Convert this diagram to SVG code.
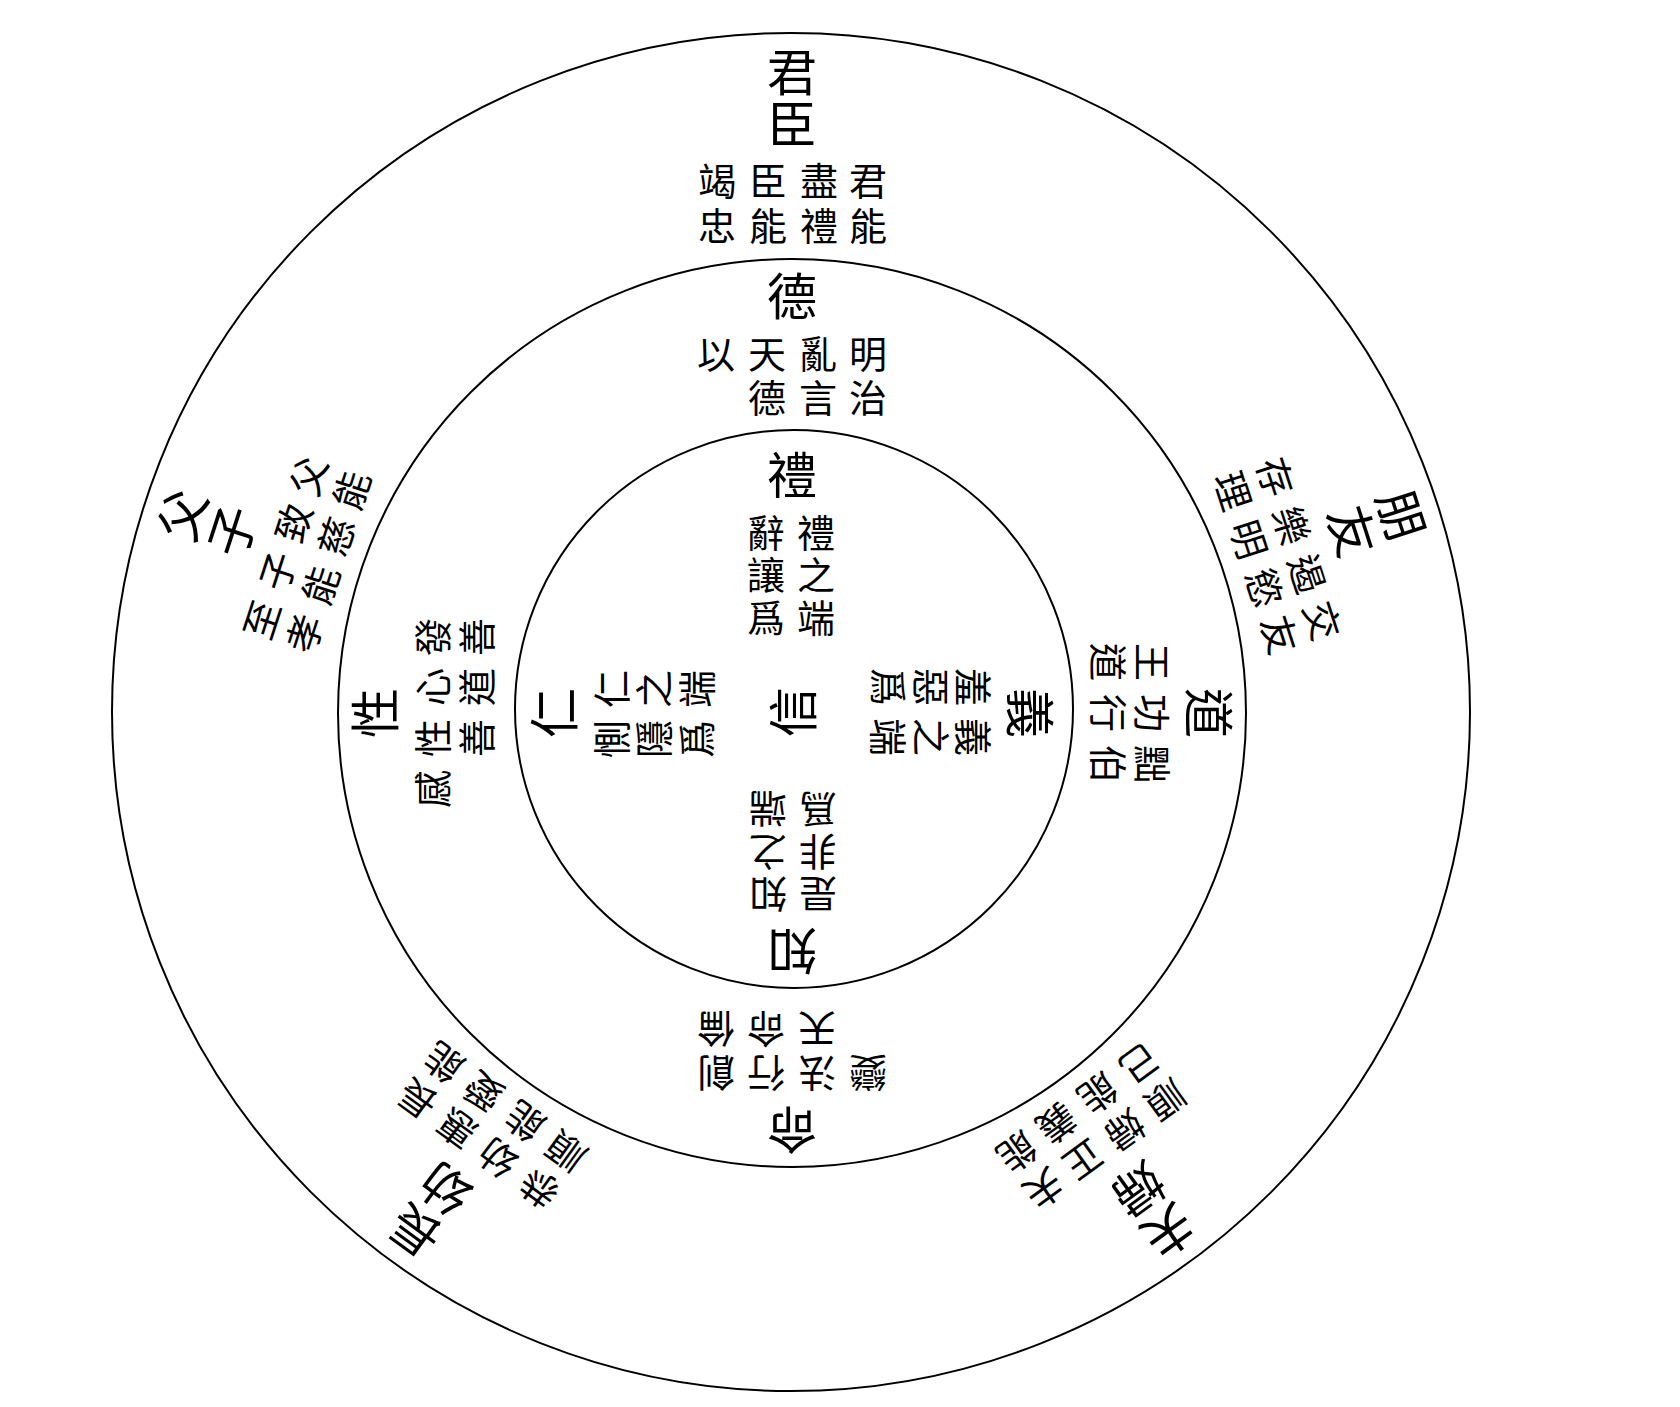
<svg xmlns="http://www.w3.org/2000/svg" width="1680" height="1407" viewBox="0 0 1680 1407">
<style>
.ring{fill:none;stroke:#000;stroke-width:2}
.t{font-family:"Noto Sans CJK TC","Noto Sans CJK SC",sans-serif;text-anchor:middle;dominant-baseline:central;fill:#000}
.h{font-size:50px}
.s{font-size:38px}
</style>
<rect width="1680" height="1407" fill="#fff"/>
<g id="rings">
<circle class="ring" cx="791" cy="712" r="679"/>
<circle class="ring" cx="792" cy="713" r="454"/>
<circle class="ring" cx="794" cy="709" r="279"/>
</g>
<g id="connectors"/>
<!-- inner ring -->
<g id="node-li">
<text class="t h" x="792" y="472">禮</text>
<text class="t s" x="816" y="530">禮</text><text class="t s" x="816" y="572">之</text><text class="t s" x="816" y="615">端</text>
<text class="t s" x="766" y="530">辭</text><text class="t s" x="766" y="572">讓</text><text class="t s" x="766" y="615">爲</text>
</g>
<g id="node-yi" transform="rotate(90 792 713)">
<text class="t h" x="792" y="472">義</text>
<text class="t s" x="816" y="530">義</text><text class="t s" x="816" y="572">之</text><text class="t s" x="816" y="615">端</text>
<text class="t s" x="766" y="530">羞</text><text class="t s" x="766" y="572">惡</text><text class="t s" x="766" y="615">爲</text>
</g>
<g id="node-zhi" transform="rotate(180 792 713)">
<text class="t h" x="792" y="472">知</text>
<text class="t s" x="816" y="530">知</text><text class="t s" x="816" y="572">之</text><text class="t s" x="816" y="615">端</text>
<text class="t s" x="766" y="530">是</text><text class="t s" x="766" y="572">非</text><text class="t s" x="766" y="615">爲</text>
</g>
<g id="node-ren" transform="rotate(270 792 713)">
<text class="t h" x="792" y="472">仁</text>
<text class="t s" x="816" y="530">仁</text><text class="t s" x="816" y="572">之</text><text class="t s" x="816" y="615">端</text>
<text class="t s" x="766" y="530">惻</text><text class="t s" x="766" y="572">隱</text><text class="t s" x="766" y="615">爲</text>
</g>
<g id="node-xin">
<text class="t h" x="790" y="712" transform="rotate(-90 790 712)">信</text>
</g>
<!-- middle ring -->
<g id="node-de">
<text class="t h" x="792" y="293">德</text>
<text class="t s" x="868" y="351">明</text><text class="t s" x="868" y="395">治</text>
<text class="t s" x="818" y="351">亂</text><text class="t s" x="818" y="395">言</text>
<text class="t s" x="767" y="351">天</text><text class="t s" x="767" y="395">德</text>
<text class="t s" x="716" y="351">以</text>
</g>
<g id="node-dao" transform="rotate(90 792 713)">
<text class="t h" x="792" y="293">道</text>
<text class="t s" x="843" y="351">黜</text><text class="t s" x="843" y="395">伯</text>
<text class="t s" x="792" y="351">功</text><text class="t s" x="792" y="395">行</text>
<text class="t s" x="741" y="351">王</text><text class="t s" x="741" y="395">道</text>
</g>
<g id="node-ming" transform="rotate(180 792 713)">
<text class="t h" x="792" y="293">命</text>
<text class="t s" x="868" y="351">創</text><text class="t s" x="868" y="395">倫</text>
<text class="t s" x="818" y="351">行</text><text class="t s" x="818" y="395">命</text>
<text class="t s" x="767" y="351">法</text><text class="t s" x="767" y="395">天</text>
<text class="t s" x="716" y="351">變</text>
</g>
<g id="node-xing" transform="rotate(270 792 713)">
<text class="t h" x="792" y="293">性</text>
<text class="t s" x="868" y="351">發</text><text class="t s" x="868" y="395">善</text>
<text class="t s" x="818" y="351">心</text><text class="t s" x="818" y="395">道</text>
<text class="t s" x="767" y="351">性</text><text class="t s" x="767" y="395">善</text>
<text class="t s" x="716" y="351">感</text>
</g>
<!-- outer ring -->
<g id="node-junchen">
<text class="t h" x="792" y="69">君</text><text class="t h" x="792" y="121">臣</text>
<text class="t s" x="868" y="178">君</text><text class="t s" x="868" y="223">能</text>
<text class="t s" x="819" y="178">盡</text><text class="t s" x="819" y="223">禮</text>
<text class="t s" x="768" y="178">臣</text><text class="t s" x="768" y="223">能</text>
<text class="t s" x="717" y="178">竭</text><text class="t s" x="717" y="223">忠</text>
</g>
<g id="node-pengyou" transform="rotate(72 792 713)">
<text class="t h" x="792" y="69">朋</text><text class="t h" x="792" y="121">友</text>
<text class="t s" x="868" y="178">交</text><text class="t s" x="868" y="223">友</text>
<text class="t s" x="819" y="178">遏</text><text class="t s" x="819" y="223">慾</text>
<text class="t s" x="768" y="178">樂</text><text class="t s" x="768" y="223">明</text>
<text class="t s" x="717" y="178">存</text><text class="t s" x="717" y="223">理</text>
</g>
<g id="node-fufu" transform="rotate(144 792 713)">
<text class="t h" x="792" y="69">夫</text><text class="t h" x="792" y="121">婦</text>
<text class="t s" x="868" y="178">夫</text><text class="t s" x="868" y="223">能</text>
<text class="t s" x="819" y="178">正</text><text class="t s" x="819" y="223">義</text>
<text class="t s" x="768" y="178">婦</text><text class="t s" x="768" y="223">能</text>
<text class="t s" x="717" y="178">順</text><text class="t s" x="717" y="223">己</text>
</g>
<g id="node-zhangyou" transform="rotate(216 792 713)">
<text class="t h" x="792" y="69">長</text><text class="t h" x="792" y="121">幼</text>
<text class="t s" x="868" y="178">長</text><text class="t s" x="868" y="223">能</text>
<text class="t s" x="819" y="178">惠</text><text class="t s" x="819" y="223">愛</text>
<text class="t s" x="768" y="178">幼</text><text class="t s" x="768" y="223">能</text>
<text class="t s" x="717" y="178">恭</text><text class="t s" x="717" y="223">順</text>
</g>
<g id="node-fuzi" transform="rotate(288 792 713)">
<text class="t h" x="792" y="69">父</text><text class="t h" x="792" y="121">子</text>
<text class="t s" x="868" y="178">父</text><text class="t s" x="868" y="223">能</text>
<text class="t s" x="819" y="178">致</text><text class="t s" x="819" y="223">慈</text>
<text class="t s" x="768" y="178">子</text><text class="t s" x="768" y="223">能</text>
<text class="t s" x="717" y="178">至</text><text class="t s" x="717" y="223">孝</text>
</g>
</svg>
